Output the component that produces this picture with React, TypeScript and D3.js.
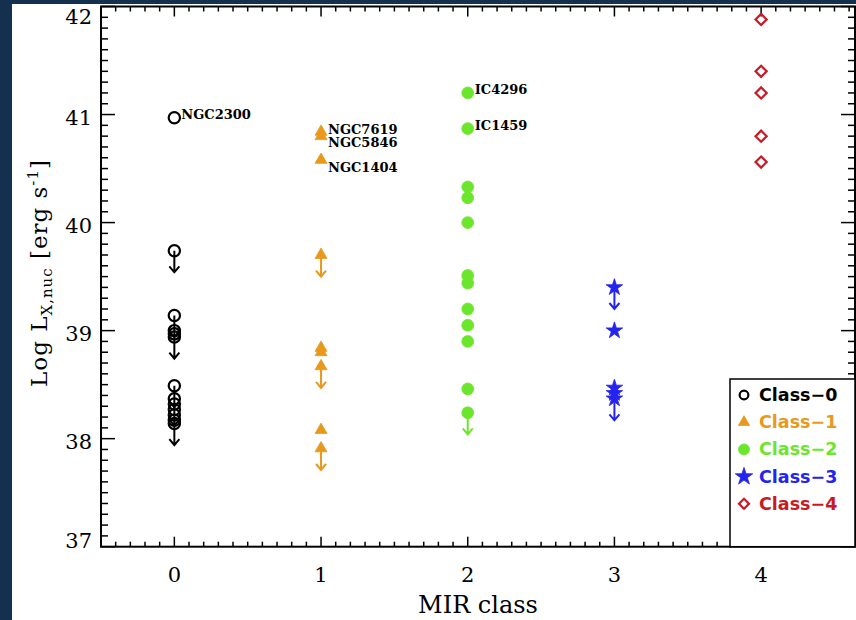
import React from 'react';
import * as d3 from 'd3';

const W = 856;
const H = 620;

const mirClasses = [0, 1, 2, 3, 4];
const yTickValues = [37, 38, 39, 40, 41, 42];

// Log L_X,nuc values per MIR class and upper-limit flags
const class0Values = [40.97, 39.74, 39.14, 39.0, 38.97, 38.94, 38.49, 38.37, 38.32, 38.27, 38.22, 38.17, 38.14];
const class0Limits = [false, true, true, false, false, true, true, false, true, false, false, false, true];
const class1Values = [40.84, 40.8, 40.58, 39.7, 38.84, 38.8, 38.67, 38.08, 37.91];
const class1Limits = [false, false, false, true, false, false, true, false, true];
const class2Values = [41.2, 40.87, 40.33, 40.23, 40.0, 39.51, 39.44, 39.2, 39.05, 38.9, 38.46, 38.24];
const class2Limits = [false, false, false, false, false, false, false, false, false, false, false, true];
const class3Values = [39.4, 39.0, 38.47, 38.42, 38.37];
const class3Limits = [true, false, false, false, true];
const class4Values = [41.88, 41.4, 41.2, 40.8, 40.56];
const class4Limits = [false, false, false, false, false];

const seriesNames = ['Class\u22120', 'Class\u22121', 'Class\u22122', 'Class\u22123', 'Class\u22124'];
const seriesColors = ['#000000', '#E8991C', '#6CE62C', '#2424EC', '#C81A24'];

// annotated galaxies: name, class, value
const labelNames = ['NGC2300', 'NGC7619', 'NGC5846', 'NGC1404', 'IC4296', 'IC1459'];
const labelClasses = [0, 1, 1, 1, 2, 2];
const labelValues = [40.97, 40.84, 40.8, 40.58, 41.2, 40.87];
const labelDy = [1, 2, 11, 12, 1, 1];

const allValues = [class0Values, class1Values, class2Values, class3Values, class4Values];
const allLimits = [class0Limits, class1Limits, class2Limits, class3Limits, class4Limits];

const serif = '"DejaVu Serif", serif';

function markerPath(cls: number, legend = false): string {
  if (cls === 0) return d3.symbol(d3.symbolCircle, legend ? 60 : 100)() as string;
  if (cls === 1) return d3.symbol(d3.symbolTriangle, legend ? 55 : 62)() as string;
  if (cls === 2) return d3.symbol(d3.symbolCircle, legend ? 95 : 110)() as string;
  if (cls === 3) return d3.symbol(d3.symbolStar, legend ? 95 : 85)() as string;
  return d3.symbol(d3.symbolSquare, legend ? 50 : 62)() as string;
}

function Marker({ cls, cx, cy, legend = false }: { cls: number; cx: number; cy: number; legend?: boolean }) {
  const color = seriesColors[cls];
  const open = cls === 0 || cls === 4;
  const rot = cls === 4 ? ' rotate(45)' : '';
  return (
    <path
      d={markerPath(cls, legend)}
      transform={`translate(${cx},${cy})${rot}`}
      fill={open ? 'none' : color}
      stroke={color}
      strokeWidth={open ? 2.2 : 0.8}
    />
  );
}

export default function App() {
  const left = 101;
  const right = 855;
  const top = 6.5;
  const bottom = 546.7;
  const x = d3.scaleLinear().domain([-0.5, 4.64]).range([left, right]);
  const y = d3.scaleLinear().domain([37, 42]).range([bottom, top]);

  const xMinor = d3.range(-5, 47).map((i) => i / 10);
  const yMinor = d3.range(370, 421).map((i) => i / 10);

  const isMajor = (v: number) => Math.abs(v - Math.round(v)) < 1e-6;

  return (
    <div style={{ position: 'absolute', left: 0, top: 0 }}>
      <svg width={W} height={H} style={{ display: 'block' }}>
        <rect x={0} y={0} width={W} height={H} fill="#14304F" />
        <rect x={12} y={4} width={W - 12} height={H - 4} fill="#ffffff" />

        {/* frame */}
        <rect x={left} y={top} width={right - left} height={bottom - top} fill="none" stroke="#000" strokeWidth={2} />

        {/* x ticks (bottom & top) */}
        {xMinor.map((v, i) => {
          const major = isMajor(v);
          const xx = x(v);
          return (
            <g key={'xt' + i}>
              <line x1={xx} x2={xx} y1={bottom} y2={bottom - (major ? 10 : 5)} stroke="#000" strokeWidth={1.5} />
              <line x1={xx} x2={xx} y1={top} y2={top + (major ? 10 : 5)} stroke="#000" strokeWidth={1.5} />
            </g>
          );
        })}
        {/* y ticks (left & right) */}
        {yMinor.map((v, i) => {
          const major = isMajor(v);
          const yy = y(v);
          return (
            <g key={'yt' + i}>
              <line x1={left} x2={left + (major ? 14 : 7)} y1={yy} y2={yy} stroke="#000" strokeWidth={1.5} />
              <line x1={right} x2={right - (major ? 14 : 7)} y1={yy} y2={yy} stroke="#000" strokeWidth={1.5} />
            </g>
          );
        })}

        {/* tick labels */}
        {mirClasses.map((c) => (
          <text key={'xl' + c} x={x(c)} y={582} textAnchor="middle" fontFamily={serif} fontSize={21} fill="#000">
            {c}
          </text>
        ))}
        {yTickValues.map((v) => {
          const yy = Math.min(Math.max(y(v) + 3, top + 10), bottom - 6);
          return (
            <text key={'yl' + v} x={92} y={yy} textAnchor="end" dominantBaseline="central" fontFamily={serif} fontSize={21} fill="#000">
              {v}
            </text>
          );
        })}

        {/* axis titles */}
        <text x={(left + right) / 2} y={613} textAnchor="middle" fontFamily={serif} fontSize={24} fill="#000">
          MIR class
        </text>
        <text transform={`translate(47,${273}) rotate(-90)`} textAnchor="middle" fontFamily={serif} fontSize={23} letterSpacing={1} fill="#000">
          <tspan>Log L</tspan>
          <tspan fontSize={15} dy={5}>X,nuc</tspan>
          <tspan dy={-5}> [erg s</tspan>
          <tspan fontSize={15} dy={-9}>-1</tspan>
          <tspan dy={9}>]</tspan>
        </text>

        {/* data */}
        {allValues.map((vals, cls) =>
          vals.map((v, i) => {
            const cx = x(cls);
            const cy = y(v);
            const lim = allLimits[cls][i];
            const tip = y(v - 0.2);
            const color = seriesColors[cls];
            return (
              <g key={`p${cls}-${i}`}>
                {lim && (
                  <path
                    d={`M${cx},${cy} V${tip} M${cx - 5},${tip - 6} L${cx},${tip} L${cx + 5},${tip - 6}`}
                    fill="none"
                    stroke={color}
                    strokeWidth={2}
                  />
                )}
                <Marker cls={cls} cx={cx} cy={cy} />
              </g>
            );
          })
        )}

        {/* annotations */}
        {labelNames.map((n, i) => (
          <text
            key={n}
            x={x(labelClasses[i]) + 7}
            y={y(labelValues[i]) + labelDy[i]}
            fontFamily={serif}
            fontSize={13}
            fontWeight="bold"
            fill="#000"
          >
            {n}
          </text>
        ))}

        {/* legend */}
        <rect x={730} y={379} width={right - 730} height={bottom - 379} fill="#fff" stroke="#000" strokeWidth={1.5} />
        {seriesNames.map((n, i) => {
          const ly = 395 + i * 27.2;
          return (
            <g key={'lg' + i}>
              <Marker cls={i} cx={744} cy={ly} legend />
              <text x={759} y={ly} dominantBaseline="central" fontFamily='"DejaVu Sans", sans-serif' fontSize={17.5} fontWeight="bold" fill={seriesColors[i]}>
                {n}
              </text>
            </g>
          );
        })}
      </svg>
    </div>
  );
}
